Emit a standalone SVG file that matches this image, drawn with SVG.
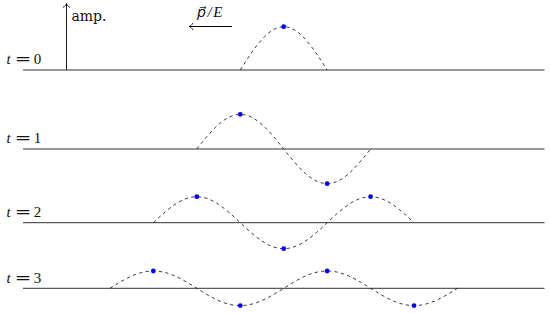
<svg xmlns="http://www.w3.org/2000/svg" width="550" height="313" viewBox="0 0 550 313">
<style>
  .base { stroke: #333; stroke-width: 1; fill: none; }
  .wave { stroke: #1a1a1a; stroke-width: 0.85; fill: none; stroke-dasharray: 3.3 3.3; }
  .dot { fill: #0000ff; stroke: none; }
  .arrow { stroke: #000; stroke-width: 0.9; fill: none; }
  .lbl { font-family: "Liberation Serif", "DejaVu Serif", serif; font-size: 15px; fill: #111; }
  .it { font-style: italic; }
  .eq { font-family: "DejaVu Sans", sans-serif; font-size: 16px; }
  .vec { font-family: "DejaVu Serif", "DejaVu Sans", serif; font-size: 14px; }
  .txt { font-family: "DejaVu Serif", "Liberation Serif", serif; font-size: 14px; fill: #111; }
</style>
<defs>
  <marker id="tip" markerUnits="userSpaceOnUse" markerWidth="10" markerHeight="10" refX="0" refY="0" viewBox="-5 -5 10 10" orient="auto" overflow="visible">
    <path d="M -3.8 -3.2 C -2.7 -1.3 -1.1 -0.3 0 0 C -1.1 0.3 -2.7 1.3 -3.8 3.2" stroke="#000" stroke-width="0.85" fill="none" stroke-linecap="round"/>
  </marker>
</defs>

<g id="connectors">
  <line id="amp-axis" class="arrow" x1="66.5" y1="70" x2="66.5" y2="3.5" marker-end="url(#tip)"/>
  <line id="direction-arrow" class="arrow" x1="232" y1="26.5" x2="189" y2="26.5" marker-end="url(#tip)" style="stroke-width:1.2"/>
</g>

<g id="label-amp">
  <text class="txt" x="71.5" y="21">amp.</text>
</g>
<g id="label-pE">
  <text class="lbl it" x="197" y="17" letter-spacing="1.6"><tspan class="vec">p⃗</tspan>/E</text>
</g>

<g id="row-t0">
  <text class="lbl" y="64"><tspan class="it" x="6.5">t</tspan> <tspan class="eq" x="14.8" textLength="16.6" lengthAdjust="spacingAndGlyphs">=</tspan> <tspan x="33.8">0</tspan></text>
  <line class="base" x1="23" y1="70" x2="544.5" y2="70"/>
  <path class="wave" d="M 240.25 70 C 254.42 47.82 267.98 26.7 283.7 26.7 C 299.43 26.7 312.98 47.82 327.15 70"/>
  <circle class="dot" cx="283.7" cy="26.7" r="2.4"/>
</g>

<g id="row-t1">
  <text class="lbl" y="143"><tspan class="it" x="6.5">t</tspan> <tspan class="eq" x="14.8" textLength="16.6" lengthAdjust="spacingAndGlyphs">=</tspan> <tspan x="33.8">1</tspan></text>
  <line class="base" x1="23" y1="149" x2="544.5" y2="149"/>
  <path class="wave" d="M 196.8 149 C 210.97 131.25 224.53 114.36 240.25 114.36 C 255.98 114.36 269.53 131.25 283.7 149 C 297.87 166.75 311.43 183.64 327.15 183.64 C 342.88 183.64 356.43 166.75 370.6 149"/>
  <circle class="dot" cx="240.25" cy="114.36" r="2.4"/>
  <circle class="dot" cx="327.15" cy="183.64" r="2.4"/>
</g>

<g id="row-t2">
  <text class="lbl" y="217"><tspan class="it" x="6.5">t</tspan> <tspan class="eq" x="14.8" textLength="16.6" lengthAdjust="spacingAndGlyphs">=</tspan> <tspan x="33.8">2</tspan></text>
  <line class="base" x1="23" y1="222.7" x2="544.5" y2="222.7"/>
  <path class="wave" d="M 153.35 222.7 C 167.52 209.39 181.08 196.72 196.8 196.72 C 212.53 196.72 226.08 209.39 240.25 222.7 C 254.42 236.01 267.98 248.68 283.7 248.68 C 299.43 248.68 312.98 236.01 327.15 222.7 C 341.32 209.39 354.88 196.72 370.6 196.72 C 386.33 196.72 399.88 209.39 414.05 222.7"/>
  <circle class="dot" cx="196.8" cy="196.72" r="2.4"/>
  <circle class="dot" cx="283.7" cy="248.68" r="2.4"/>
  <circle class="dot" cx="370.6" cy="196.72" r="2.4"/>
</g>

<g id="row-t3">
  <text class="lbl" y="282.5"><tspan class="it" x="6.5">t</tspan> <tspan class="eq" x="14.8" textLength="16.6" lengthAdjust="spacingAndGlyphs">=</tspan> <tspan x="33.8">3</tspan></text>
  <line class="base" x1="23" y1="288.3" x2="544.5" y2="288.3"/>
  <path class="wave" d="M 109.9 288.3 C 124.07 279.43 137.63 270.98 153.35 270.98 C 169.08 270.98 182.63 279.43 196.8 288.3 C 210.97 297.17 224.53 305.62 240.25 305.62 C 255.98 305.62 269.53 297.17 283.7 288.3 C 297.87 279.43 311.43 270.98 327.15 270.98 C 342.88 270.98 356.43 279.43 370.6 288.3 C 384.77 297.17 398.33 305.62 414.05 305.62 C 429.78 305.62 443.33 297.17 457.5 288.3"/>
  <circle class="dot" cx="153.35" cy="270.98" r="2.4"/>
  <circle class="dot" cx="240.25" cy="305.62" r="2.4"/>
  <circle class="dot" cx="327.15" cy="270.98" r="2.4"/>
  <circle class="dot" cx="414.05" cy="305.62" r="2.4"/>
</g>
</svg>
